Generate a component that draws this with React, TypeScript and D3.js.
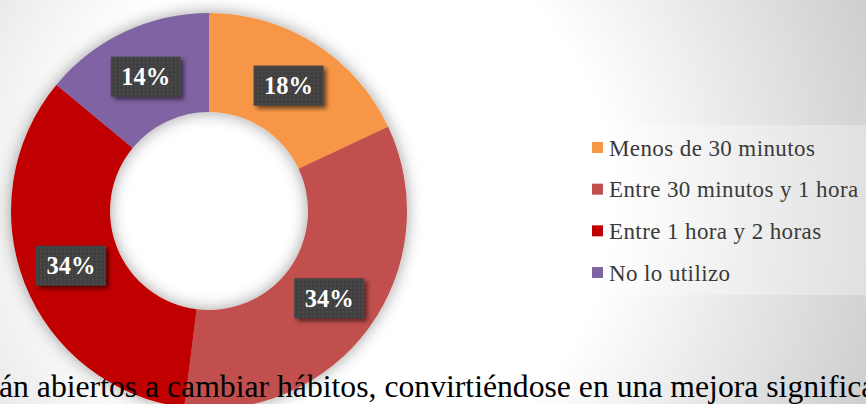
import React from "react";
import * as d3 from "d3";

const categories = [
  "Menos de 30 minutos",
  "Entre 30 minutos y 1 hora",
  "Entre 1 hora y 2 horas",
  "No lo utilizo",
];
const values = [18, 34, 34, 14];
const labels = ["18%", "34%", "34%", "14%"];
const colors = ["#F79646", "#C0504D", "#C00000", "#8064A2"];
const bodyText =
  "án abiertos a cambiar hábitos, convirtiéndose en una mejora significa";

const W = 866;
const H = 404;
const FONT = "'Liberation Serif', 'Times New Roman', Times, serif";

export default function App() {
  const cx = 209;
  const cy = 211;
  const R = 198;
  const r = 99;
  const pie = d3
    .pie<number>()
    .sort(null)
    .value((d) => d)
    .startAngle(0)
    .endAngle(2 * Math.PI);
  const arcs = pie(values);
  const arc = d3.arc<d3.PieArcDatum<number>>().innerRadius(r).outerRadius(R);

  const legendY = d3
    .scalePoint<number>()
    .domain(d3.range(categories.length))
    .range([148, 273]);

  return (
    <svg
      width={W}
      height={H}
      style={{ position: "absolute", left: 0, top: 0 }}
      xmlns="http://www.w3.org/2000/svg"
    >
      <defs>
        <radialGradient
          id="bg"
          gradientUnits="userSpaceOnUse"
          cx={340}
          cy={200}
          r={580}
        >
          <stop offset="0" stopColor="#ffffff" />
          <stop offset="0.47" stopColor="#ffffff" />
          <stop offset="1" stopColor="#cbcbcb" />
        </radialGradient>
        <filter id="ringShadow" x="-30%" y="-30%" width="160%" height="160%">
          <feDropShadow dx="0" dy="0" stdDeviation="8" floodColor="#000" floodOpacity="0.38" />
        </filter>
        <filter id="boxShadow" x="-30%" y="-30%" width="160%" height="160%">
          <feDropShadow dx="3" dy="3" stdDeviation="2" floodColor="#000" floodOpacity="0.55" />
        </filter>
        <pattern id="dots" width="4" height="4" patternUnits="userSpaceOnUse">
          <rect width="4" height="4" fill="#404040" />
          <rect x="1" y="1" width="1.4" height="1.4" fill="#555555" />
        </pattern>
      </defs>

      <rect x={0} y={0} width={W} height={H} fill="url(#bg)" />

      <g transform={`translate(${cx},${cy})`}>
        <g filter="url(#ringShadow)">
          {arcs.map((a, i) => (
            <path key={i} d={arc(a) || ""} fill={colors[i]} />
          ))}
        </g>
        {arcs.map((a, i) => {
          const [lx, ly] = arc.centroid(a);
          return (
            <g key={"l" + i} transform={`translate(${lx},${ly})`}>
              <rect
                x={-35}
                y={-20}
                width={70}
                height={40}
                fill="url(#dots)"
                filter="url(#boxShadow)"
              />
              <text
                x={0}
                y={8.5}
                textAnchor="middle"
                fill="#ffffff"
                fontFamily={FONT}
                fontWeight="bold"
                fontSize={24.5}
              >
                {labels[i]}
              </text>
            </g>
          );
        })}
      </g>

      <rect x={580} y={125} width={300} height={170} fill="#ffffff" fillOpacity={0.3} />
      {categories.map((c, i) => (
        <g key={"lg" + i} transform={`translate(592,${legendY(i)})`}>
          <rect x={0} y={-6} width={11} height={11} fill={colors[i]} />
          <text
            x={17}
            y={7.5}
            fill="#3a3a3a"
            fontFamily={FONT}
            fontSize={23}
            letterSpacing={0.4}
          >
            {c}
          </text>
        </g>
      ))}

      <text x={-1} y={397} fill="#000" fontFamily={FONT} fontSize={31.7}>
        {bodyText}
      </text>
    </svg>
  );
}
